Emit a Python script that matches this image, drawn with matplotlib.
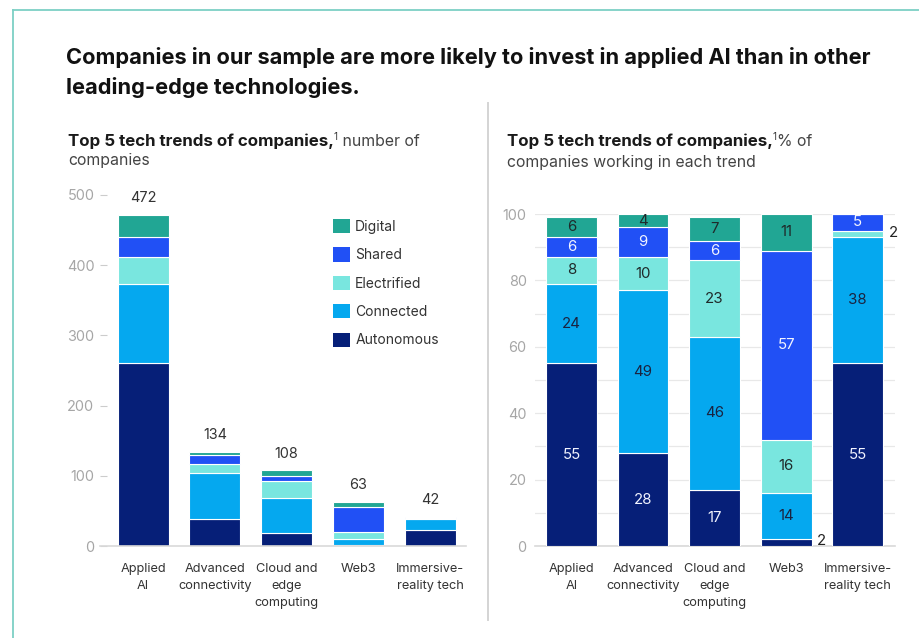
import matplotlib
matplotlib.use("Agg")
import matplotlib.pyplot as plt
from matplotlib.patches import Patch
from matplotlib.lines import Line2D
from matplotlib.ticker import MultipleLocator

W, H, DPI = 919, 638, 100

# ---- data -------------------------------------------------------------
categories = ["Applied\nAI", "Advanced\nconnectivity", "Cloud and\nedge\ncomputing",
              "Web3", "Immersive-\nreality tech"]
trends = ["Autonomous", "Connected", "Electrified", "Shared", "Digital"]

# number of companies per trend (stacked bottom to top)
autonomous_n = [260, 38, 18, 1, 23]
connected_n = [113, 66, 50, 9, 16]
electrified_n = [38, 13, 25, 10, 1]
shared_n = [29, 12, 7, 36, 2]
digital_n = [32, 5, 8, 7, 0]

# % of companies working in each trend
autonomous_pct = [55, 28, 17, 2, 55]
connected_pct = [24, 49, 46, 14, 38]
electrified_pct = [8, 10, 23, 16, 2]
shared_pct = [6, 9, 6, 57, 5]
digital_pct = [6, 4, 7, 11, 0]

y_ticks_left = [0, 100, 200, 300, 400, 500]
y_ticks_right = [0, 20, 40, 60, 80, 100]

# ---- style ------------------------------------------------------------
trend_colors = {
    "Autonomous": "#061f78",
    "Connected": "#05a8ef",
    "Electrified": "#79e6df",
    "Shared": "#2150f5",
    "Digital": "#21a694",
}
label_colors = {
    "Autonomous": "#f2f4ff",
    "Connected": "#1a2340",
    "Electrified": "#1f2a2a",
    "Shared": "#f2f4ff",
    "Digital": "#1f2a2a",
}
FONT = "Inter"
TICK_GRAY = "#a6a6a6"
TEXT_DARK = "#333333"

plt.rcParams["font.family"] = [FONT, "DejaVu Sans"]

fig = plt.figure(figsize=(W / DPI, H / DPI), dpi=DPI)
fig.patch.set_facecolor("white")


def fx(px):
    return px / W


def fy(py):
    return 1 - py / H


def axes_from_px(left, top, right, bottom):
    return fig.add_axes([fx(left), fy(bottom), fx(right) - fx(left), fy(top) - fy(bottom)])


# frame and divider
fig.add_artist(Line2D([fx(13), fx(13)], [fy(10), fy(H + 5)], color="#7dd0c5", lw=1.3,
                      transform=fig.transFigure))
fig.add_artist(Line2D([fx(13), fx(W + 5)], [fy(10), fy(10)], color="#7dd0c5", lw=1.3,
                      transform=fig.transFigure))
fig.add_artist(Line2D([fx(488), fx(488)], [fy(103), fy(620)], color="#d4d4d4", lw=1.4,
                      transform=fig.transFigure))

# headline
TITLE = 15.7
fig.text(fx(66), fy(57), "Companies in our sample are more likely to invest in applied AI than in other",
         fontsize=TITLE, fontweight="bold", color="#111111", va="center", ha="left")
fig.text(fx(66), fy(88), "leading-edge technologies.",
         fontsize=TITLE, fontweight="bold", color="#111111", va="center", ha="left")

renderer = fig.canvas.get_renderer()


def rich_line(x_px, y_px, runs):
    """Draw consecutive text runs on one line, starting at x_px (pixels)."""
    x = x_px
    for text, size, weight, color, dy in runs:
        t = fig.text(fx(x), fy(y_px + dy), text, fontsize=size, fontweight=weight,
                     color=color, va="center", ha="left")
        bb = t.get_window_extent(renderer=renderer)
        x += bb.width


SUB_B = 12.2
SUB = 11.4
rich_line(68, 141, [("Top 5 tech trends of companies,", SUB_B, "bold", "#1a1a1a", 0),
                    ("1", 7, "normal", "#333333", -4),
                    (" number of", SUB, "normal", "#444444", 0)])
fig.text(fx(68), fy(161), "companies", fontsize=SUB, color="#444444", va="center", ha="left")

rich_line(507, 141, [("Top 5 tech trends of companies,", SUB_B, "bold", "#1a1a1a", 0),
                     ("1", 7, "normal", "#333333", -4),
                     ("% of", SUB, "normal", "#444444", 0)])
fig.text(fx(507), fy(162), "companies working in each trend", fontsize=SUB, color="#444444",
         va="center", ha="left")

x = list(range(len(categories)))
BAR_W = 0.71
CAT_SIZE = 9.2
TICK_SIZE = 10.4

n_series = {"Autonomous": autonomous_n, "Connected": connected_n, "Electrified": electrified_n,
            "Shared": shared_n, "Digital": digital_n}
pct_series = {"Autonomous": autonomous_pct, "Connected": connected_pct,
              "Electrified": electrified_pct, "Shared": shared_pct, "Digital": digital_pct}

# ---- left: number of companies ----------------------------------------
axL = axes_from_px(100, 195, 466, 546)
bottom = [0] * len(categories)
for tr in trends:
    vals = n_series[tr]
    axL.bar(x, vals, bottom=bottom, width=BAR_W, color=trend_colors[tr],
            edgecolor="white", linewidth=0.8, label=tr)
    bottom = [b + v for b, v in zip(bottom, vals)]
for xi, total in zip(x, bottom):
    axL.annotate(f"{total}", (xi, total), xytext=(0, 12), textcoords="offset points",
                 ha="center", va="center", fontsize=10.4, color=TEXT_DARK)

axL.set_xlim(-0.6, 4.5)
axL.set_ylim(0, 500)
axL.set_yticks(y_ticks_left)
axL.set_xticks(x)
axL.set_xticklabels(categories, fontsize=CAT_SIZE, color=TEXT_DARK, linespacing=1.55)
axL.tick_params(axis="x", length=0, pad=12)
axL.tick_params(axis="y", direction="in", length=5, width=0.8, color="#cccccc",
                labelsize=TICK_SIZE, labelcolor=TICK_GRAY, pad=4)
for s in ("top", "right", "left"):
    axL.spines[s].set_visible(False)
axL.spines["bottom"].set_color("#d9d9d9")
axL.spines["bottom"].set_linewidth(1.2)
axL.set_facecolor("none")

handles = [Patch(facecolor=trend_colors[t], edgecolor="none") for t in reversed(trends)]
fig.legend(handles, list(reversed(trends)), loc="upper left",
           bbox_to_anchor=(fx(333), fy(219)), bbox_transform=fig.transFigure,
           frameon=False, fontsize=10, handlelength=1.2, handleheight=1.2,
           labelspacing=0.98, handletextpad=0.4, borderpad=0, borderaxespad=0,
           labelcolor=TEXT_DARK)

# ---- right: % of companies --------------------------------------------
axR = axes_from_px(535, 214, 895, 546)
bottom = [0] * len(categories)
for tr in trends:
    vals = pct_series[tr]
    axR.bar(x, vals, bottom=bottom, width=BAR_W, color=trend_colors[tr],
            edgecolor="white", linewidth=0.8, zorder=3)
    for xi, b, v in zip(x, bottom, vals):
        if v == 0:
            continue
        if v >= 4:
            axR.text(xi, b + v / 2, f"{v}", ha="center", va="center", fontsize=10.8,
                     color=label_colors[tr], zorder=4)
        else:
            axR.annotate(f"{v}", (xi + BAR_W / 2, b + v / 2), xytext=(4, 1),
                         textcoords="offset points", ha="left", va="center",
                         fontsize=10.8, color="#222222", zorder=4)
    bottom = [b + v for b, v in zip(bottom, vals)]

axR.set_xlim(-0.51, 4.52)
axR.set_ylim(0, 100)
axR.set_yticks(y_ticks_right)
axR.yaxis.set_minor_locator(MultipleLocator(10))
axR.grid(axis="y", which="both", color="#e8e8e8", linewidth=0.9, zorder=0)
axR.set_axisbelow(True)
axR.set_xticks(x)
axR.set_xticklabels(categories, fontsize=CAT_SIZE, color=TEXT_DARK, linespacing=1.55)
axR.tick_params(axis="x", length=0, pad=12)
axR.tick_params(axis="y", which="both", length=0, labelsize=TICK_SIZE, labelcolor=TICK_GRAY,
                pad=6)
for s in ("top", "right", "left"):
    axR.spines[s].set_visible(False)
axR.spines["bottom"].set_color("#d9d9d9")
axR.spines["bottom"].set_linewidth(1.2)
axR.set_facecolor("none")

fig.savefig("out.png", dpi=DPI)
